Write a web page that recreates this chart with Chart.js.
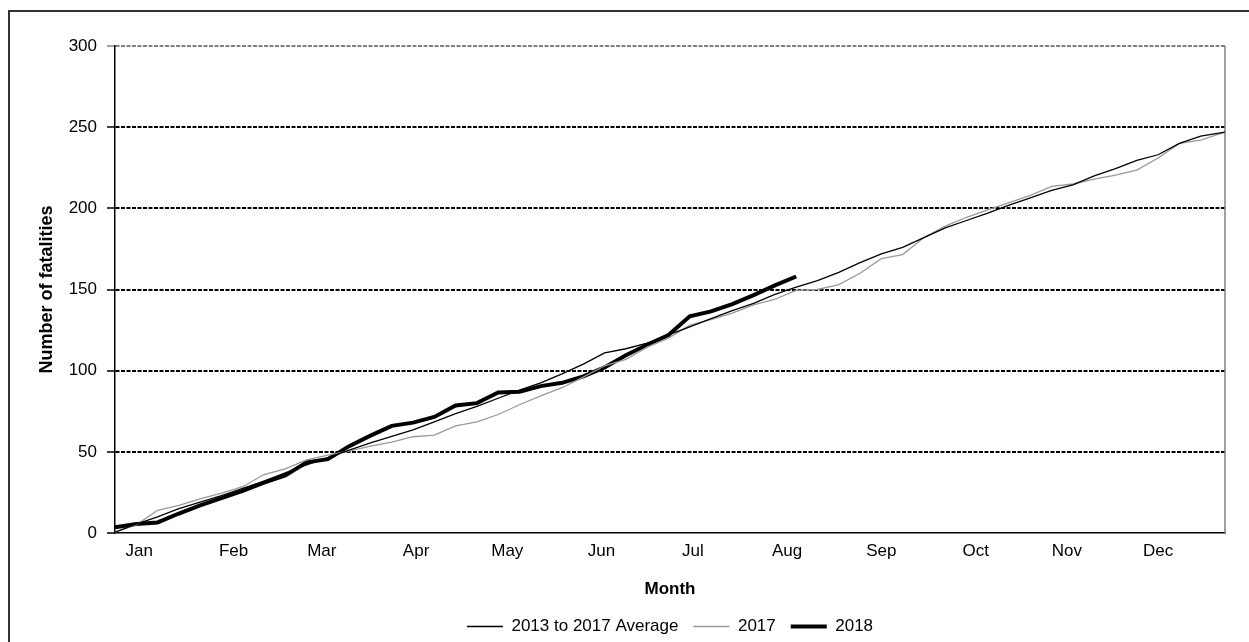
<!DOCTYPE html>
<html lang="en">
<head>
<meta charset="UTF-8">
<title>Cumulative fatalities by month</title>
<script src="https://cdn.jsdelivr.net/npm/chart.js"></script>
<style>
  html, body { margin: 0; padding: 0; background: #fff; overflow: hidden; }
  .frame { position: absolute; left: 8px; top: 10px; width: 1300px; height: 700px; border: 2px solid #333; box-sizing: border-box; }
  .chart-box { position: absolute; left: 0; top: 0; width: 1249px; height: 650px; }
</style>
</head>
<body>
<div class="frame"></div>
<div class="chart-box"><canvas id="fatalChart"></canvas></div>
<script>
// day of year for each sample
const days = [0, 7, 14, 21, 28, 35, 42, 49, 56, 63, 70, 77, 84, 91, 98, 105, 112, 119, 126, 133,
  140, 147, 154, 161, 168, 175, 182, 189, 196, 203, 210, 217, 224, 231, 238, 245, 252, 259, 266, 273,
  280, 287, 294, 301, 308, 315, 322, 329, 336, 343, 350, 357, 365];

const avg1317 = [0.5, 5.5, 10, 15, 19, 23, 27.5, 32, 37, 42, 46.5, 51, 55.5, 59.5, 63.5, 68.5, 73.5, 78, 83, 88,
  92.5, 98, 104, 111, 113.5, 117, 122, 127, 132, 137, 141.5, 147, 151.5, 155.5, 160.5, 166.5, 172, 176, 182, 188,
  192.5, 197, 202, 206.5, 211, 214.5, 220, 224.5, 229.5, 233, 240, 244.5, 247];

const y2017 = [0.5, 5, 14, 17, 21, 24.5, 28.5, 36, 39.5, 45, 48, 50.5, 53.5, 56, 59.3, 60.3, 66, 68.5, 73, 79,
  84.5, 89.5, 96, 103, 107, 114.5, 120, 128, 131.5, 135.5, 140.5, 144, 149.5, 150, 153, 160, 169, 171.5, 182, 189,
  194.5, 199, 203.5, 208, 213.5, 215, 218, 220.5, 223.5, 231, 240, 242, 247];

// 2018 only runs to early August
const y2018 = [3.5, 5.5, 6.5, 12, 17, 21.5, 26, 31, 35.5, 43.5, 45.5, 53.5, 60, 66, 68, 71.5, 78.5, 80, 86.5, 87,
  90.5, 92.5, 96.5, 102, 109.5, 116, 122, 133.5, 136.5, 141, 146.5, 152.5, 158];

const monthLabels = ['Jan', 'Feb', 'Mar', 'Apr', 'May', 'Jun', 'Jul', 'Aug', 'Sep', 'Oct', 'Nov', 'Dec'];
const monthTickDays = [8, 39, 68, 99, 129, 160, 190, 221, 252, 283, 313, 343];

function toPoints(values) {
  return values.map((v, i) => ({ x: days[i], y: v }));
}

Chart.defaults.font.family = "'Liberation Sans', Arial, sans-serif";
Chart.defaults.color = '#000';

// grey right-hand edge of the plot area
const plotEdge = {
  id: 'plotEdge',
  beforeDatasetsDraw(chart) {
    const { ctx, chartArea: a } = chart;
    ctx.save();
    ctx.strokeStyle = '#808080';
    ctx.lineWidth = 1.5;
    ctx.beginPath();
    ctx.moveTo(a.right, a.top);
    ctx.lineTo(a.right, a.bottom);
    ctx.stroke();
    ctx.restore();
  }
};

new Chart(document.getElementById('fatalChart'), {
  type: 'line',
  data: {
    datasets: [
      { label: '2013 to 2017 Average', data: toPoints(avg1317), borderColor: '#000', borderWidth: 1.3 },
      { label: '2017', data: toPoints(y2017), borderColor: '#999', borderWidth: 1.3 },
      { label: '2018', data: toPoints(y2018), borderColor: '#000', borderWidth: 4 }
    ]
  },
  options: {
    responsive: true,
    maintainAspectRatio: false,
    animation: false,
    events: [],
    elements: { point: { radius: 0 }, line: { tension: 0 } },
    layout: { padding: { top: 46, right: 24, bottom: 5, left: 26 } },
    scales: {
      x: {
        type: 'linear',
        min: 0,
        max: 365,
        afterBuildTicks: s => { s.ticks = monthTickDays.map(v => ({ value: v })); },
        afterFit: s => { s.height = 70; },
        ticks: {
          autoSkip: false,
          maxRotation: 0,
          padding: 8,
          font: { size: 17 },
          callback: (v, i) => monthLabels[i]
        },
        grid: { display: false, drawTicks: false },
        border: { color: '#000', width: 1.5 },
        title: { display: true, text: 'Month', font: { size: 17, weight: 'bold' }, padding: { top: 0, bottom: 3 } }
      },
      y: {
        min: 0,
        max: 300,
        afterFit: s => { s.width = 89; },
        ticks: { stepSize: 50, padding: 10, font: { size: 17 } },
        grid: {
          color: c => c.tick.value === 300 ? '#808080' : (c.tick.value === 0 ? 'rgba(0,0,0,0)' : '#000'),
          lineWidth: 2,
          tickLength: 8,
          tickWidth: 1.5,
          tickColor: c => c.tick.value === 300 ? '#808080' : '#000',
          tickBorderDash: []
        },
        border: { color: '#000', width: 1.5, dash: [4, 1.5] },
        title: { display: true, text: 'Number of fatalities', font: { size: 18, weight: 'bold' }, padding: { top: 10, bottom: 0 } }
      }
    },
    plugins: {
      tooltip: { enabled: false },
      legend: {
        position: 'bottom',
        fullSize: false,
        labels: {
          usePointStyle: true,
          pointStyle: 'line',
          pointStyleWidth: 36,
          padding: 15,
          font: { size: 17 }
        }
      }
    }
  },
  plugins: [plotEdge]
});
</script>
</body>
</html>
